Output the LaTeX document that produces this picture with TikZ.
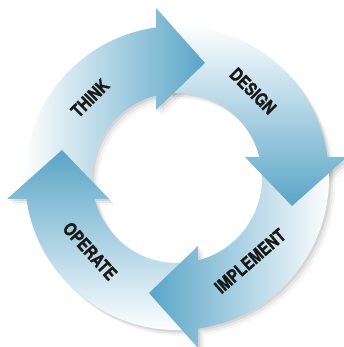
\documentclass[tikz,border=0pt]{standalone}
\usepackage{fontspec}
\setmainfont{TeX Gyre Heros}
\newfontfamily\cyclefont[FakeStretch=0.82, BoldFeatures={FakeBold=1.2}]{TeX Gyre Heros}
\definecolor{cycleblue}{RGB}{86,163,198}

% one arrow of the ring (THINK), the others are rotated copies
\newcommand{\armbody}{(186:152) arc[start angle=186, end angle=96, radius=152] -- (102:85) arc[start angle=102, end angle=186, radius=85] -- cycle}
\newcommand{\armhead}{(-21,170) -- (28,115) -- (-21,68) -- cycle}

\begin{document}
\begin{tikzpicture}[x=1pt, y=1pt,
    cyclelabel/.style={font=\cyclefont\bfseries\fontsize{18}{18}\selectfont, text=black!90, inner sep=0pt},
    armshade/.style={top color=cycleblue, bottom color=white, shading angle=#1}]
  \useasboundingbox (-177,-169) rectangle (167,178);
  % soft shadow
  \foreach \s/\o in {6/0.04, 4/0.06, 2/0.08}
    \foreach \r in {0,-90,-180,-270}
      \fill[black, opacity=\o, shift={(\s,-\s)}, rotate=\r] \armbody \armhead;
  % bodies first, heads on top
  \foreach \r/\a in {0/-90, -90/-180, -180/-270, -270/-360} {
    \begin{scope}[rotate=\r]
      \clip \armbody;
      \shade[armshade=\a] (-155,-25) rectangle (32,175);
    \end{scope}
  }
  \foreach \r/\a in {0/-90, -90/-180, -180/-270, -270/-360} {
    \begin{scope}[rotate=\r]
      \clip \armhead;
      \shade[armshade=\a] (-155,-25) rectangle (32,175);
    \end{scope}
  }
  \node[cyclelabel, rotate=45] (think) at (-87,80) {THINK};
  \node[cyclelabel, rotate=-45] (design) at (76,87) {DESIGN};
  \node[cyclelabel, rotate=41] (implement) at (73,-83) {IMPLEMENT};
  \node[cyclelabel, rotate=-48] (operate) at (-87,-73) {OPERATE};
\end{tikzpicture}
\end{document}
